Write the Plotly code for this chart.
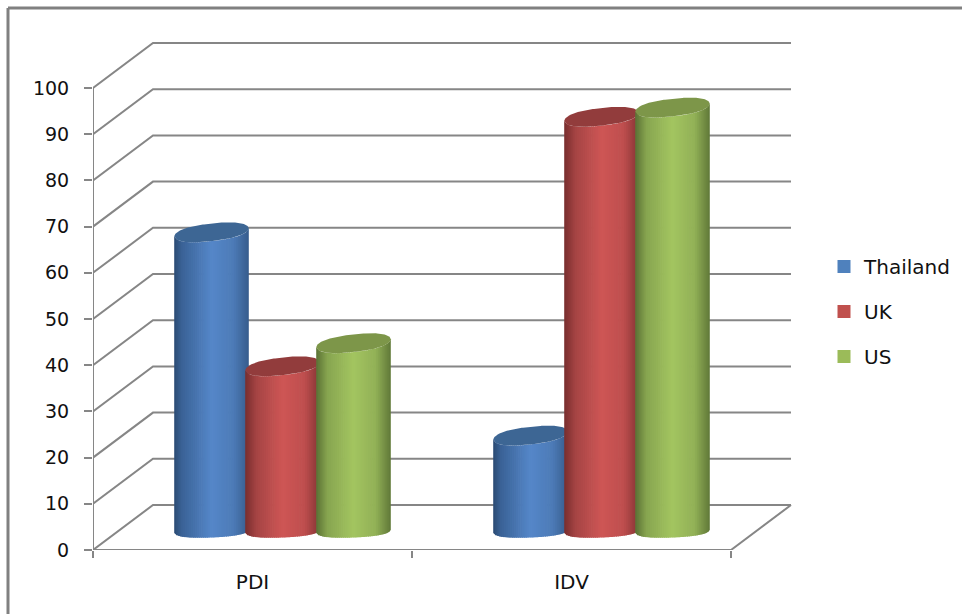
import plotly.graph_objects as go

categories = ["PDI", "IDV"]
series_names = ["Thailand", "UK", "US"]
thailand = [64, 20]
uk = [35, 89]
us = [40, 91]
y_ticks = [0, 10, 20, 30, 40, 50, 60, 70, 80, 90, 100]

W, H = 962, 614
L, R, T, B = 93, 793, 40, 550
X_UNIT = 319.0
Y_UNIT = 4.62
GRID = "#868686"
FONT = "DejaVu Sans"

DX, DY = 60 / X_UNIT, 45 / Y_UNIT          # floor depth in data units
RX = 37.3 / X_UNIT                         # cylinder radius on screen
RY_TOP, SHEAR_TOP = 8.8 / Y_UNIT, 4.0 / Y_UNIT
RY_BOT, SHEAR_BOT = 6.0 / Y_UNIT, 1.5 / Y_UNIT
STEP = 71 / X_UNIT                         # spacing of the series
BASE_TOP = 22 / Y_UNIT
BASE_BOT = 18.5 / Y_UNIT

STYLES = {
    "Thailand": dict(swatch="#4f81bd", top="#3d6694",
                     stops=[(0, (42, 74, 114)), (.1, (58, 98, 150)), (.5, (85, 135, 201)),
                            (.8, (76, 122, 182)), (1, (54, 92, 140))]),
    "UK": dict(swatch="#c0504d", top="#923c3c",
               stops=[(0, (120, 46, 46)), (.15, (165, 68, 68)), (.5, (206, 86, 85)),
                      (.8, (190, 78, 78)), (1, (132, 52, 52))]),
    "US": dict(swatch="#9bbb59", top="#7d9649",
               stops=[(0, (90, 113, 52)), (.15, (135, 165, 80)), (.5, (163, 197, 96)),
                      (.8, (145, 176, 86)), (1, (96, 120, 56))]),
}


def shade(stops, f):
    for (a, ca), (b, cb) in zip(stops, stops[1:]):
        if f <= b:
            k = (f - a) / (b - a)
            return "rgb(%d,%d,%d)" % tuple(round(p + (q - p) * k) for p, q in zip(ca, cb))
    return "rgb(%d,%d,%d)" % stops[-1][1]


def arc(u, ry, shear):
    return -ry * max(0.0, 1 - abs(u) ** 2.5) ** 0.5 + shear * u


fig = go.Figure()


def line(xs, ys):
    fig.add_trace(go.Scatter(x=xs, y=ys, mode="lines", line=dict(color=GRID, width=2),
                             hoverinfo="skip", showlegend=False, cliponaxis=False))


# walls: gridlines run along the side wall, then along the back wall
for v in y_ticks:
    line([0, DX, DX + 2.0], [v, v + DY, v + DY])
line([0, 0], [0, 100])
line([0, 2, 2 + DX], [0, 0, DY])

N = 36
for s, (name, values) in enumerate(zip(series_names, [thailand, uk, us])):
    st = STYLES[name]
    for c, v in enumerate(values):
        cx = c + 0.5 + DX / 2 + (s - 1) * STEP
        y0, y1 = BASE_BOT, v + BASE_TOP
        for i in range(N):
            u0 = -1 + 2 * i / N
            u1 = -1 + 2 * (i + 1) / N
            ue = min(1.0, u1 + 0.02)
            fig.add_trace(go.Scatter(
                x=[cx + RX * u0, cx + RX * ue, cx + RX * ue, cx + RX * u0],
                y=[y0 + arc(u0, RY_BOT, SHEAR_BOT), y0 + arc(ue, RY_BOT, SHEAR_BOT),
                   y1 + arc(ue, RY_TOP, SHEAR_TOP), y1 + arc(u0, RY_TOP, SHEAR_TOP)],
                mode="lines", line=dict(width=0), fill="toself",
                fillcolor=shade(st["stops"], (i + 0.5) / N),
                hoverinfo="skip", showlegend=False, legendgroup=name, cliponaxis=False))
        xs, ys = [], []
        for i in range(61):
            u = -1 + 2 * i / 60
            xs.append(cx + RX * u)
            ys.append(y1 + arc(u, RY_TOP, SHEAR_TOP))
        for i in range(61):
            u = 1 - 2 * i / 60
            xs.append(cx + RX * u)
            ys.append(y1 - arc(-u, RY_TOP, SHEAR_TOP))
        fig.add_trace(go.Scatter(x=xs, y=ys, mode="lines", line=dict(width=0), fill="toself",
                                 fillcolor=st["top"], name=name, text=[f"{categories[c]}: {v}"] * len(xs),
                                 hoverinfo="text", showlegend=False, legendgroup=name, cliponaxis=False))
    fig.add_trace(go.Scatter(x=[None], y=[None], mode="markers", name=name, legendgroup=name,
                             marker=dict(symbol="square", size=13, color=st["swatch"])))

px = lambda x: (x - L) / (R - L)
py = lambda y: (B - y) / (B - T)
frame = dict(type="line", xref="paper", yref="paper", line=dict(color="#808080", width=3), layer="below")

fig.update_layout(
    width=W, height=H, margin=dict(l=L, r=W - R, t=T, b=H - B, autoexpand=False),
    paper_bgcolor="white", plot_bgcolor="white", font=dict(family=FONT, size=19, color="#111111"),
    showlegend=True,
    legend=dict(x=px(824), xanchor="left", y=py(247), yanchor="top", tracegroupgap=16,
                font=dict(family=FONT, size=20), bgcolor="rgba(0,0,0,0)"),
    shapes=[dict(frame, x0=px(8), x1=px(8), y0=py(8), y1=py(614)),
            dict(frame, x0=px(8), x1=px(962), y0=py(8), y1=py(8))],
    xaxis=dict(range=[0, (R - L) / X_UNIT], tickmode="array", tickvals=[0.5, 1.5], ticktext=categories,
               ticks="", showgrid=False, zeroline=False, showline=False, ticklabelstandoff=18,
               tickfont=dict(family=FONT, size=20),
               minor=dict(tickmode="array", tickvals=[0, 1, 2], ticks="outside", ticklen=7,
                          tickcolor=GRID, tickwidth=2, showgrid=False)),
    yaxis=dict(range=[0, (B - T) / Y_UNIT], tickmode="array", tickvals=y_ticks,
               ticks="outside", ticklen=8, tickwidth=2, tickcolor=GRID, ticklabelstandoff=11,
               showgrid=False, zeroline=False, showline=False),
)

fig.write_html("out.html", config=dict(displayModeBar=False),
               post_script="document.body.style.margin='0';document.documentElement.style.overflow='hidden';")
